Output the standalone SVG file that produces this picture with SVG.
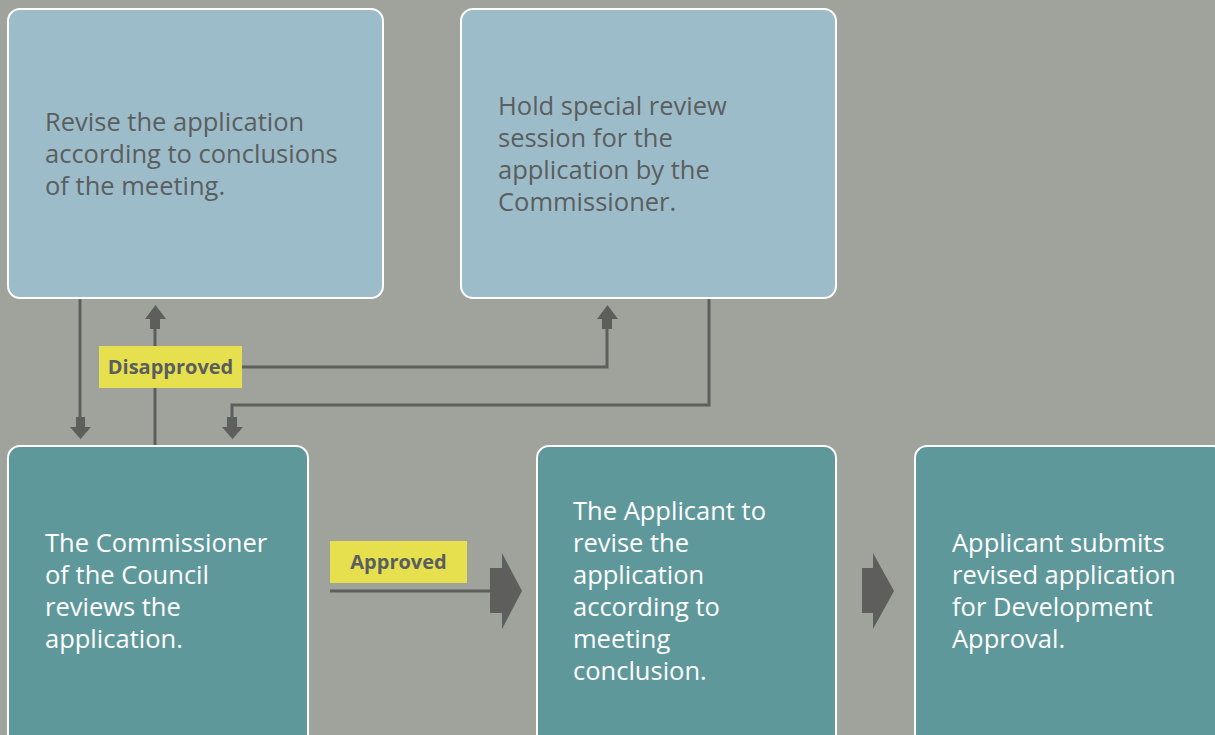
<svg xmlns="http://www.w3.org/2000/svg" width="1215" height="735" viewBox="0 0 1215 735">
<style>
.bg{fill:#9fa39c}
.top{fill:#9dbcc9;stroke:#ffffff;stroke-width:2}
.bot{fill:#5e989b;stroke:#ffffff;stroke-width:2}
.t{font-family:"Open Sans","Noto Sans",sans-serif;font-size:25.5px}
.dark{fill:#5a5e5e}
.light{fill:#ffffff}
.lbl{fill:#e6e04e}
.lt{font-family:"Open Sans","Noto Sans",sans-serif;font-size:20px;font-weight:bold;fill:#5a5e5e;text-anchor:middle}
.ln{fill:none;stroke:#5e5e5c;stroke-width:3}
.ah{fill:#5e5e5c}
</style>
<rect class="bg" x="0" y="0" width="1215" height="735"/>
<g id="connectors">
<line class="ln" x1="80" y1="298" x2="80" y2="420"/>
<path class="ah" d="M76,417 H85 V427 H91 L80.5,439 L70,427 H76 Z"/>
<line class="ln" x1="155" y1="446" x2="155" y2="325"/>
<path class="ah" d="M150,329 H160 V319 H166 L155.5,305 L145,319 H150 Z"/>
<polyline class="ln" points="242,367 607,367 607,325"/>
<path class="ah" d="M602,329 H612 V319 H618 L607.5,305 L597,319 H602 Z"/>
<polyline class="ln" points="709,298 709,405 232,405 232,420"/>
<path class="ah" d="M227,417 H237 V427 H243 L232.5,439 L222,427 H227 Z"/>
<line class="ln" x1="330" y1="591" x2="492" y2="591"/>
<path class="ah" d="M490,568 H502 V553 L522,591 L502,629 V613 H490 Z"/>
<path class="ah" d="M862,568 H873 V553 L894,591 L873,629 V613 H862 Z"/>
</g>
<g id="label-disapproved">
<rect class="lbl" x="99" y="346" width="143" height="42"/>
<text class="lt" x="170.5" y="374">Disapproved</text>
</g>
<g id="label-approved">
<rect class="lbl" x="330" y="541" width="137" height="42"/>
<text class="lt" x="398.5" y="569">Approved</text>
</g>
<g id="node-revise">
<rect class="top" x="8" y="9" width="375" height="289" rx="12"/>
<text class="t dark" x="45"><tspan x="45" y="131">Revise the application</tspan><tspan x="45" y="163">according to conclusions</tspan><tspan x="45" y="195">of the meeting.</tspan></text>
</g>
<g id="node-special">
<rect class="top" x="461" y="9" width="375" height="289" rx="12"/>
<text class="t dark"><tspan x="498" y="115">Hold special review</tspan><tspan x="498" y="147">session for the</tspan><tspan x="498" y="179">application by the</tspan><tspan x="498" y="211">Commissioner.</tspan></text>
</g>
<g id="node-commissioner">
<rect class="bot" x="8" y="446" width="300" height="300" rx="12"/>
<text class="t light"><tspan x="45" y="552">The Commissioner</tspan><tspan x="45" y="584">of the Council</tspan><tspan x="45" y="616">reviews the</tspan><tspan x="45" y="648">application.</tspan></text>
</g>
<g id="node-applicant-revise">
<rect class="bot" x="537" y="446" width="299" height="300" rx="12"/>
<text class="t light"><tspan x="573" y="520">The Applicant to</tspan><tspan x="573" y="552">revise the</tspan><tspan x="573" y="584">application</tspan><tspan x="573" y="616">according to</tspan><tspan x="573" y="648">meeting</tspan><tspan x="573" y="680">conclusion.</tspan></text>
</g>
<g id="node-submit">
<rect class="bot" x="915" y="446" width="310" height="300" rx="12"/>
<text class="t light"><tspan x="952" y="552">Applicant submits</tspan><tspan x="952" y="584">revised application</tspan><tspan x="952" y="616">for Development</tspan><tspan x="952" y="648">Approval.</tspan></text>
</g>
</svg>
